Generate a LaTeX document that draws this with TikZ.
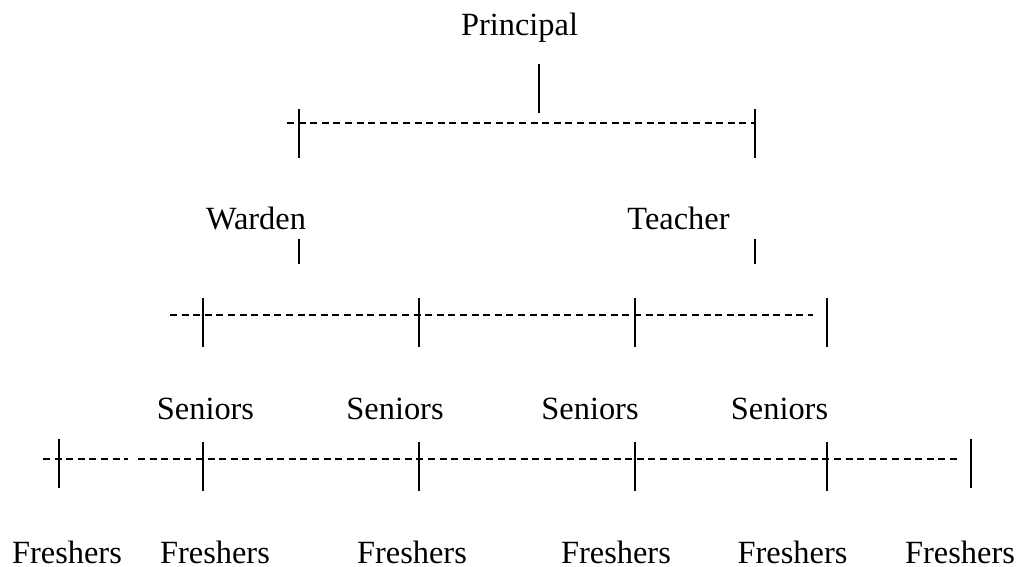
\documentclass[tikz,border=0pt]{standalone}
\usepackage{fontspec}
\setmainfont{Liberation Serif}
\usepackage{tikz}
\usetikzlibrary{positioning}

\begin{document}
\begin{tikzpicture}[x=0.75pt,y=-0.75pt,
						rolenode/.style={font=\fontsize{24.3}{28}\selectfont, inner sep=0pt, anchor=base},
						tickline/.style={line width=1.5pt},
						dashline/.style={line width=0.9pt, dash pattern=on 5.2pt off 3.5pt},
						]
						\useasboundingbox (0,0) rectangle (1020,567);
						%Nodes
						\node[rolenode]      (principal) 	at 	(519.5,36)          {Principal};
						\node[rolenode]      (warden) 	at 	(256,229)           {Warden};
						\node[rolenode]      (teacher) 	at 	(678.5,229)         {Teacher};
						\node[rolenode]      (s1) 	at 	(205.5,419)         {Seniors};
						\node[rolenode]      (s2) 	at 	(395,419)           {Seniors};
						\node[rolenode]      (s3) 	at 	(590,419)           {Seniors};
						\node[rolenode]      (s4) 	at 	(779.5,419)         {Seniors};
						\node[rolenode]      (f1) 	at 	(67,563)            {Freshers};
						\node[rolenode]      (f2) 	at 	(215,563)           {Freshers};
						\node[rolenode]      (f3) 	at 	(412,563)           {Freshers};
						\node[rolenode]      (f4) 	at 	(616,563)           {Freshers};
						\node[rolenode]      (f5) 	at 	(792.5,563)         {Freshers};
						\node[rolenode]      (f6) 	at 	(960,563)           {Freshers};

						%Line ends
						\coordinate (p1) at (539,64);   \coordinate (p2) at (539,113);
						\coordinate (d1w) at (287,123); \coordinate (d1e) at (755,123);
						\coordinate (w1a) at (299,109); \coordinate (w1b) at (299,158);
						\coordinate (t1a) at (755,109); \coordinate (t1b) at (755,158);
						\coordinate (w2a) at (299,239); \coordinate (w2b) at (299,264);
						\coordinate (t2a) at (755,239); \coordinate (t2b) at (755,264);
						\coordinate (d2w) at (170,315); \coordinate (d2e) at (813,315);
						\coordinate (s1a) at (203,298); \coordinate (s1b) at (203,347);
						\coordinate (s2a) at (419,298); \coordinate (s2b) at (419,347);
						\coordinate (s3a) at (635,298); \coordinate (s3b) at (635,347);
						\coordinate (s4a) at (827,298); \coordinate (s4b) at (827,347);
						\coordinate (d3w) at (43,459);  \coordinate (d3m) at (128,459);
						\coordinate (d3n) at (138,459); \coordinate (d3e) at (957,459);
						\coordinate (f1a) at (59,439);  \coordinate (f1b) at (59,488);
						\coordinate (f2a) at (203,442); \coordinate (f2b) at (203,491);
						\coordinate (f3a) at (419,442); \coordinate (f3b) at (419,491);
						\coordinate (f4a) at (635,442); \coordinate (f4b) at (635,491);
						\coordinate (f5a) at (827,442); \coordinate (f5b) at (827,491);
						\coordinate (f6a) at (971,439); \coordinate (f6b) at (971,488);

						%Lines
						\draw[tickline] (p1) -- (p2);
						\draw[dashline] (d1w) -- (d1e);
						\draw[tickline] (w1a) -- (w1b);
						\draw[tickline] (t1a) -- (t1b);

						\draw[tickline] (w2a) -- (w2b);
						\draw[tickline] (t2a) -- (t2b);
						\draw[dashline] (d2w) -- (d2e);
						\draw[tickline] (s1a) -- (s1b);
						\draw[tickline] (s2a) -- (s2b);
						\draw[tickline] (s3a) -- (s3b);
						\draw[tickline] (s4a) -- (s4b);

						\draw[dashline] (d3w) -- (d3m);
						\draw[dashline] (d3n) -- (d3e);
						\draw[tickline] (f1a) -- (f1b);
						\draw[tickline] (f2a) -- (f2b);
						\draw[tickline] (f3a) -- (f3b);
						\draw[tickline] (f4a) -- (f4b);
						\draw[tickline] (f5a) -- (f5b);
						\draw[tickline] (f6a) -- (f6b);
					\end{tikzpicture}
\end{document}
